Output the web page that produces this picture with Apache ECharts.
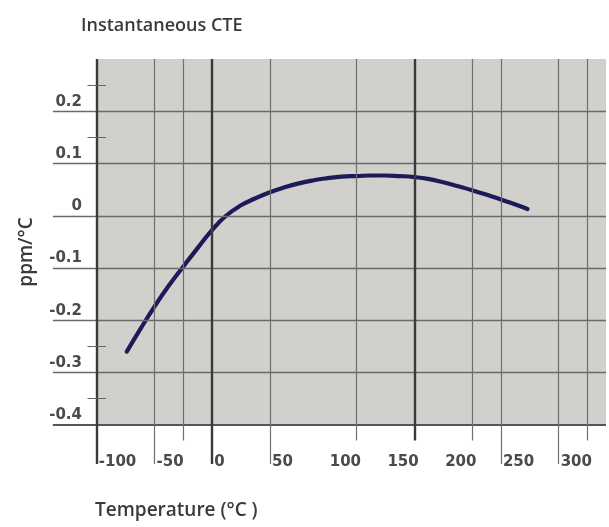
<!DOCTYPE html>
<html>
<head>
<meta charset="utf-8">
<script src="https://cdn.jsdelivr.net/npm/echarts@6/dist/echarts.min.js"></script>
<style>
  html, body { margin: 0; padding: 0; background: #ffffff; }
  #chart { width: 609px; height: 527px; }
</style>
</head>
<body>
<div id="chart"></div>
<script>
// Instantaneous coefficient of thermal expansion vs temperature
const temps = [-74, -62, -50, -38, -25, -12, 0, 12, 25, 38, 50, 62, 75, 88, 100,
               112, 125, 138, 150, 162, 175, 188, 200, 212, 225, 238, 250, 262, 273];
const cte = [-0.260, -0.216, -0.174, -0.135, -0.097, -0.060, -0.027, 0.000, 0.020,
             0.034, 0.045, 0.054, 0.062, 0.068, 0.072, 0.075, 0.076, 0.077, 0.077,
             0.076, 0.074, 0.070, 0.064, 0.057, 0.049, 0.040, 0.031, 0.022, 0.013];

// Axis tick labels
const xTickLabels = [-100, -50, 0, 50, 100, 150, 200, 250, 300];
const yTickValues = [0.2, 0.1, 0, -0.1, -0.2, -0.3, -0.4];
const yHalfTicks = [0.25, 0.15, -0.25, -0.35];

// Temperatures of the vertical rules printed on the grid
const ruleTemps = [-100, -50, -25, 0, 50, 125, 175, 225, 250, 300, 325];
const heavyRules = [-100, 0, 175];

const X_MIN = -150, X_MAX = 341, Y_MIN = -0.5, Y_MAX = 0.3;
const PLOT_LEFT = -100, PLOT_BOTTOM = -0.4;

const near = (a, b) => Math.abs(a - b) < 1e-6;

// vertical rules, running below the plot as tick marks
const verticalRules = ruleTemps.map(t => {
  const heavy = heavyRules.includes(t);
  const labelled = xTickLabels.includes(t);
  return [
    { coord: [t, Y_MAX], lineStyle: { color: heavy ? '#3a3a3a' : '#6e6e6e', width: heavy ? 2.4 : 1.2, type: 'solid' } },
    { coord: [t, labelled ? -0.475 : -0.43] }
  ];
});

// horizontal rules, extending left under the value labels
const horizontalRules = yTickValues.map(v => [
  { coord: [-138, v], lineStyle: { color: near(v, PLOT_BOTTOM) ? '#555555' : '#6a6a6a', width: near(v, PLOT_BOTTOM) ? 2 : 1.4, type: 'solid' } },
  { coord: [X_MAX, v] }
]);

// short half-step marks across the value axis
const halfMarks = yHalfTicks.map(v => [
  { coord: [-108, v], lineStyle: { color: '#666666', width: 1, type: 'solid' } },
  { coord: [-92, v] }
]);

const labelFont = { fontSize: 15, fontWeight: 'bold', color: '#4a4a4a', fontFamily: 'DejaVu Sans' };

const chart = echarts.init(document.getElementById('chart'), null, { renderer: 'canvas' });

chart.setOption({
  animation: false,
  backgroundColor: '#ffffff',
  textStyle: { fontFamily: 'Open Sans' },
  title: [
    {
      text: 'Instantaneous CTE',
      left: 76, top: 12,
      textStyle: { fontSize: 18, fontWeight: 600, color: '#3a3a3a', fontFamily: 'Open Sans' }
    },
    {
      text: 'Temperature (°C )',
      left: 90, top: 496,
      textStyle: { fontSize: 19, fontWeight: 600, color: '#3a3a3a', fontFamily: 'Open Sans' }
    }
  ],
  graphic: [
    {
      type: 'text',
      x: 27, y: 252,
      rotation: Math.PI / 2,
      style: {
        text: 'ppm/°C',
        fontSize: 19, fontWeight: 600, fontFamily: 'Open Sans',
        fill: '#3a3a3a', align: 'center', verticalAlign: 'middle'
      }
    }
  ],
  grid: { left: 39, right: 0, top: 59, bottom: 50, containLabel: false },
  xAxis: {
    type: 'value',
    min: X_MIN, max: X_MAX, interval: 50,
    axisLine: { show: false },
    axisTick: { show: false },
    splitLine: { show: false },
    axisLabel: Object.assign({
      inside: true,
      margin: 7,
      align: 'left',
      padding: [0, 0, 0, 2],
      formatter: v => xTickLabels.some(t => near(t, v)) ? String(Math.round(v)) : ''
    }, labelFont)
  },
  yAxis: {
    type: 'value',
    min: Y_MIN, max: Y_MAX, interval: 0.1,
    axisLine: { show: false },
    axisTick: { show: false },
    splitLine: { show: false },
    axisLabel: Object.assign({
      inside: true,
      margin: 43,
      align: 'right',
      verticalAlign: 'bottom',
      padding: [0, 0, 2, 0],
      formatter: v => yTickValues.some(t => near(t, v)) ? String(Number(v.toFixed(1))) : ''
    }, labelFont)
  },
  series: [
    {
      name: 'plot area',
      type: 'line',
      data: [],
      z: 1,
      silent: true,
      markArea: {
        silent: true,
        itemStyle: { color: '#d2d0cc' },
        data: [[{ coord: [PLOT_LEFT, Y_MAX] }, { coord: [X_MAX, PLOT_BOTTOM] }]]
      }
    },
    {
      name: 'rules',
      type: 'line',
      data: [],
      z: 2,
      silent: true,
      markLine: {
        silent: true,
        symbol: ['none', 'none'],
        label: { show: false },
        emphasis: { disabled: true },
        data: [...horizontalRules, ...verticalRules, ...halfMarks]
      }
    },
    {
      name: 'Instantaneous CTE',
      type: 'line',
      z: 3,
      smooth: true,
      showSymbol: false,
      lineStyle: { color: '#1c1b58', width: 4.2, cap: 'round' },
      data: temps.map((t, i) => [t, cte[i]])
    }
  ]
});
</script>
</body>
</html>
